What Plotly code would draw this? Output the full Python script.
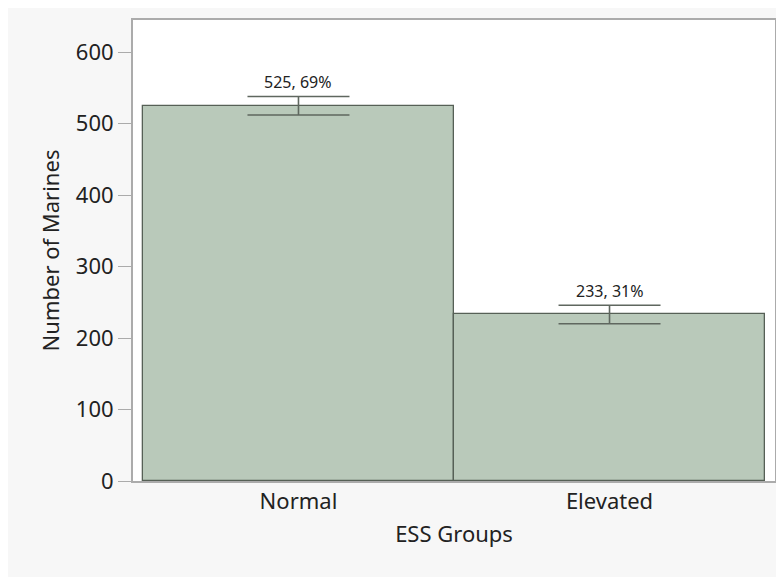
import plotly.graph_objects as go

categories = ["Normal", "Elevated"]
counts = [525, 233]
percents = [69, 31]
err = [13, 13]
y_ticks = [0, 100, 200, 300, 400, 500, 600]

# figure is placed by the page 8px from the left/top edge
W, H = 776, 569
L, R, T, B = 125, 7, 12, 96

FONT = "Noto Sans"
bar_fill = "#b9c9ba"
edge = "#566056"
axis_gray = "#ababab"

fig = go.Figure()
fig.add_trace(go.Bar(
    x=categories, y=counts, width=1.0,
    marker=dict(color=bar_fill, line=dict(color=edge, width=1.3)),
    error_y=dict(type="data", array=err, visible=True, color="#5f675f",
                 thickness=1.6, width=51),
    showlegend=False, hoverinfo="skip",
))

for c, v, p, e in zip(categories, counts, percents, err):
    fig.add_annotation(x=c, y=v + e, text=f"{v}, {p}%", showarrow=False,
                       yanchor="bottom", yshift=1,
                       font=dict(family=FONT, size=16, color="#222222"))

fig.update_layout(
    width=W, height=H,
    margin=dict(l=L, r=R, t=T, b=B),
    paper_bgcolor="#f7f7f7", plot_bgcolor="white",
    bargap=0,
    font=dict(family=FONT, size=22, color="#222222"),
    xaxis=dict(
        range=[-0.532, 1.532], showgrid=False, zeroline=False,
        showline=True, linecolor=axis_gray, linewidth=2, mirror=True,
        ticks="", tickfont=dict(size=22),
        title=dict(text="ESS Groups", font=dict(size=22), standoff=12),
    ),
    yaxis=dict(
        range=[0, 645], tickvals=y_ticks, showgrid=False, zeroline=False,
        showline=True, linecolor=axis_gray, linewidth=2, mirror=True,
        ticks="outside", ticklen=13, tickcolor=axis_gray, tickwidth=1,
        tickfont=dict(size=22),
        title=dict(text="Number of Marines", font=dict(size=22), standoff=10),
    ),
)

fig.write_html("out.html")
